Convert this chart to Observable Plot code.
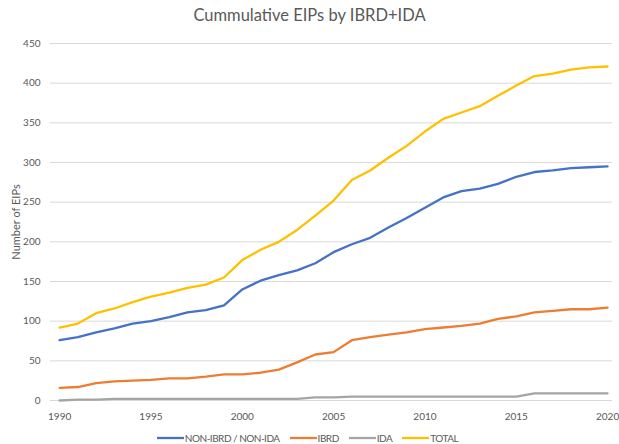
<!DOCTYPE html>
<html>
<head>
<meta charset="utf-8">
<script src="https://cdn.jsdelivr.net/npm/d3@7"></script>
<script src="https://cdn.jsdelivr.net/npm/@observablehq/plot@0.6"></script>
<style>
  html, body { margin: 0; padding: 0; background: #fff; }
  #wrap { position: relative; width: 619px; height: 444px; overflow: hidden; font-family: Lato, "Open Sans", sans-serif; }
  #title { position: absolute; left: 0; top: 5px; width: 619px; text-align: center; font-size: 16.5px; line-height: 20px; color: #595959; box-sizing: border-box; }
  #chart { position: absolute; left: 0; top: 30px; }
  #legend { position: absolute; left: 0; top: 432px; width: 619px; display: flex; justify-content: center; gap: 10px; font-size: 10px; letter-spacing: -0.5px; line-height: 12px; color: #595959; padding-right: 4px; box-sizing: border-box; }
  .item { display: flex; align-items: center; }
  .item svg { margin-right: 1px; }
</style>
</head>
<body>
<div id="wrap">
  <div id="title">Cummulative EIPs by IBRD+IDA</div>
  <div id="chart"></div>
  <div id="legend"></div>
</div>
<script>
const years = [1990,1991,1992,1993,1994,1995,1996,1997,1998,1999,2000,2001,2002,2003,2004,2005,2006,2007,2008,2009,2010,2011,2012,2013,2014,2015,2016,2017,2018,2019,2020];
const nonIbrd = [76,80,86,91,97,100,105,111,114,120,140,151,158,164,173,187,197,205,218,230,243,256,264,267,273,282,288,290,293,294,295];
const ibrd = [16,17,22,24,25,26,28,28,30,33,33,35,39,48,58,61,76,80,83,86,90,92,94,97,103,106,111,113,115,115,117];
const ida = [0,1,1,2,2,2,2,2,2,2,2,2,2,2,4,4,5,5,5,5,5,5,5,5,5,5,9,9,9,9,9];
const total = [92,97,110,116,124,131,136,142,146,155,177,190,200,215,233,252,278,290,306,321,339,355,363,371,384,397,409,412,417,420,421];

const seriesNames = ["NON-IBRD / NON-IDA", "IBRD", "IDA", "TOTAL"];
const seriesColors = ["#4472C4", "#ED7D31", "#A5A5A5", "#FFC000"];
const seriesValues = [nonIbrd, ibrd, ida, total];
const yTicks = [0,50,100,150,200,250,300,350,400,450];
const xTicks = [1990,1995,2000,2005,2010,2015,2020];

const rows = seriesNames.flatMap((name, i) =>
  years.map((year, j) => ({series: name, year, value: seriesValues[i][j]}))
);

const chart = Plot.plot({
  width: 619,
  height: 395,
  marginLeft: 50,
  marginRight: 7,
  marginTop: 13,
  marginBottom: 25,
  style: {fontFamily: "Lato, 'Open Sans', sans-serif", fontSize: "10px", color: "#595959", background: "transparent"},
  x: {domain: [1989.5, 2020.27]},
  y: {domain: [0, 450]},
  color: {domain: seriesNames, range: seriesColors},
  marks: [
    Plot.ruleY(yTicks, {stroke: "#d9d9d9", strokeWidth: 1}),
    Plot.line(rows, {x: "year", y: "value", z: "series", stroke: "series", strokeWidth: 2.3, strokeLinejoin: "round", strokeLinecap: "round"}),
    Plot.axisX({ticks: xTicks, tickFormat: "d", tickSize: 0, tickPadding: 12, label: null}),
    Plot.axisY({ticks: yTicks, tickSize: 0, tickPadding: 10, label: null}),
    Plot.axisY({ticks: [], label: "Number of EIPs", labelAnchor: "center", labelArrow: "none", labelOffset: 38, fontSize: 11})
  ]
});
document.getElementById("chart").appendChild(chart);

const legend = document.getElementById("legend");
seriesNames.forEach((name, i) => {
  const item = document.createElement("div");
  item.className = "item";
  item.innerHTML = `<svg width="27" height="6"><line x1="0" x2="27" y1="3" y2="3" stroke="${seriesColors[i]}" stroke-width="2.3"/></svg><span>${name}</span>`;
  legend.appendChild(item);
});
</script>
</body>
</html>
